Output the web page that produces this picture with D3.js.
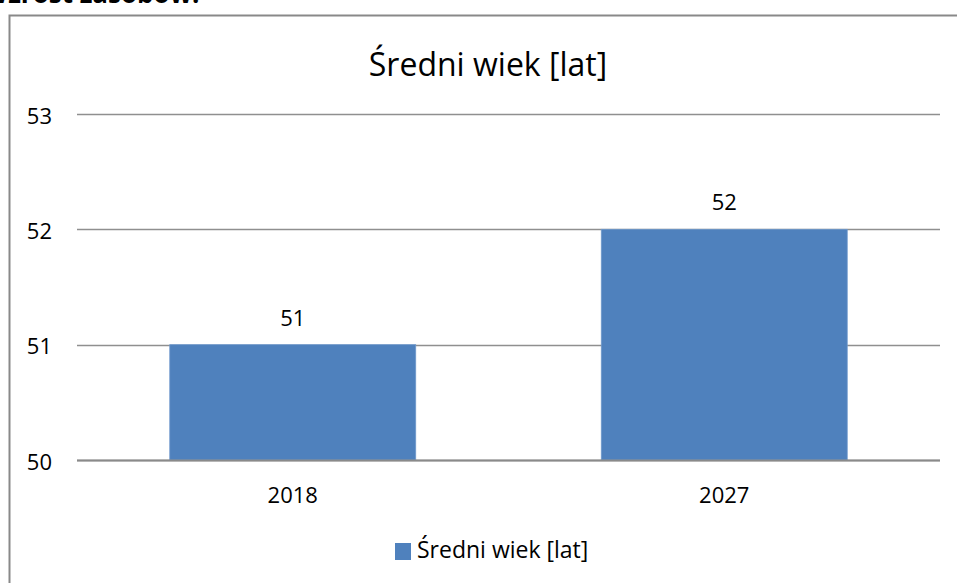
<!DOCTYPE html>
<html lang="pl">
<head>
<meta charset="utf-8">
<title>Średni wiek [lat]</title>
<style>
html,body{margin:0;padding:0;background:#fff;overflow:hidden;}
svg{display:block;font-family:"Open Sans","Noto Sans",sans-serif;}
</style>
</head>
<body>
<svg id="chart" width="957" height="583"></svg>
<script src="https://cdn.jsdelivr.net/npm/d3@7"></script>
<script>
// dane
const categories = ['2018', '2027'];
const values = [51, 52];
const yTicks = [50, 51, 52, 53];
const seriesName = 'Średni wiek [lat]';
const chartTitle = 'Średni wiek [lat]';
const headingText = 'Wzrost zasobów.';

const W = 957, H = 583;
const plot = {left: 77, right: 940, top: 114, bottom: 460};
const FONT = '"Open Sans","Noto Sans",sans-serif';
const svg = d3.select('#chart');

// obcięty nagłówek nad wykresem (w oryginale widać tylko dół liter)
svg.append('text')
  .attr('x', -17).attr('y', 3)
  .attr('font-size', 26).attr('font-weight', 'bold')
  .attr('fill', '#000')
  .text(headingText);

// ramka obszaru wykresu
svg.append('rect')
  .attr('x', 9.5).attr('y', 15.5)
  .attr('width', W + 20).attr('height', H + 20)
  .attr('fill', 'none').attr('stroke', '#898989').attr('stroke-width', 2);

const x = d3.scaleBand()
  .domain(categories)
  .range([plot.left, plot.right])
  .paddingInner(0.43).paddingOuter(0.215);

const y = d3.scaleLinear()
  .domain([d3.min(yTicks), d3.max(yTicks)])
  .range([plot.bottom, plot.top]);

// linie siatki
svg.append('g')
  .selectAll('line')
  .data(yTicks)
  .join('line')
  .attr('x1', plot.left).attr('x2', plot.right)
  .attr('y1', d => Math.round(y(d)) + 0.5).attr('y2', d => Math.round(y(d)) + 0.5)
  .attr('stroke', '#8f8f8f').attr('stroke-width', 1.5);

// oś Y
const yAxis = svg.append('g')
  .attr('transform', `translate(${plot.left - 25},0)`)
  .call(d3.axisLeft(y).tickValues(yTicks).tickSize(0).tickPadding(0).tickFormat(d3.format('d')));
yAxis.select('.domain').remove();
yAxis.selectAll('text')
  .attr('dy', null).attr('y', 9)
  .attr('font-size', 22).attr('fill', '#000')
  .attr('font-family', FONT);

// słupki
svg.append('g')
  .selectAll('rect')
  .data(values)
  .join('rect')
  .attr('x', (d, i) => x(categories[i]))
  .attr('y', d => y(d))
  .attr('width', x.bandwidth())
  .attr('height', d => y(y.domain()[0]) - y(d))
  .attr('fill', '#4f81bd')
  .attr('stroke', '#6f99cc').attr('stroke-width', 0.8);

// linia bazowa
svg.append('line')
  .attr('x1', plot.left).attr('x2', plot.right)
  .attr('y1', Math.round(y(50)) + 0.5).attr('y2', Math.round(y(50)) + 0.5)
  .attr('stroke', '#8a8a8a').attr('stroke-width', 2);

// etykiety danych
svg.append('g')
  .selectAll('text')
  .data(values)
  .join('text')
  .attr('x', (d, i) => x(categories[i]) + x.bandwidth() / 2)
  .attr('y', d => y(d) - 19)
  .attr('text-anchor', 'middle')
  .attr('font-size', 22).attr('fill', '#000')
  .text(d => d);

// oś X
const xAxis = svg.append('g')
  .attr('transform', `translate(0,${plot.bottom})`)
  .call(d3.axisBottom(x).tickSize(0).tickPadding(0));
xAxis.select('.domain').remove();
xAxis.selectAll('text')
  .attr('dy', null).attr('y', 43)
  .attr('font-size', 22).attr('fill', '#000')
  .attr('font-family', FONT);

// tytuł
svg.append('text')
  .attr('x', 488).attr('y', 76)
  .attr('text-anchor', 'middle')
  .attr('font-size', 32).attr('fill', '#000')
  .text(chartTitle);

// legenda
const legend = svg.append('g').attr('transform', 'translate(395,543)');
legend.append('rect')
  .attr('width', 16).attr('height', 17)
  .attr('fill', '#4f81bd');
legend.append('text')
  .attr('x', 22).attr('y', 15)
  .attr('font-size', 23).attr('fill', '#000')
  .text(seriesName);
</script>
</body>
</html>
